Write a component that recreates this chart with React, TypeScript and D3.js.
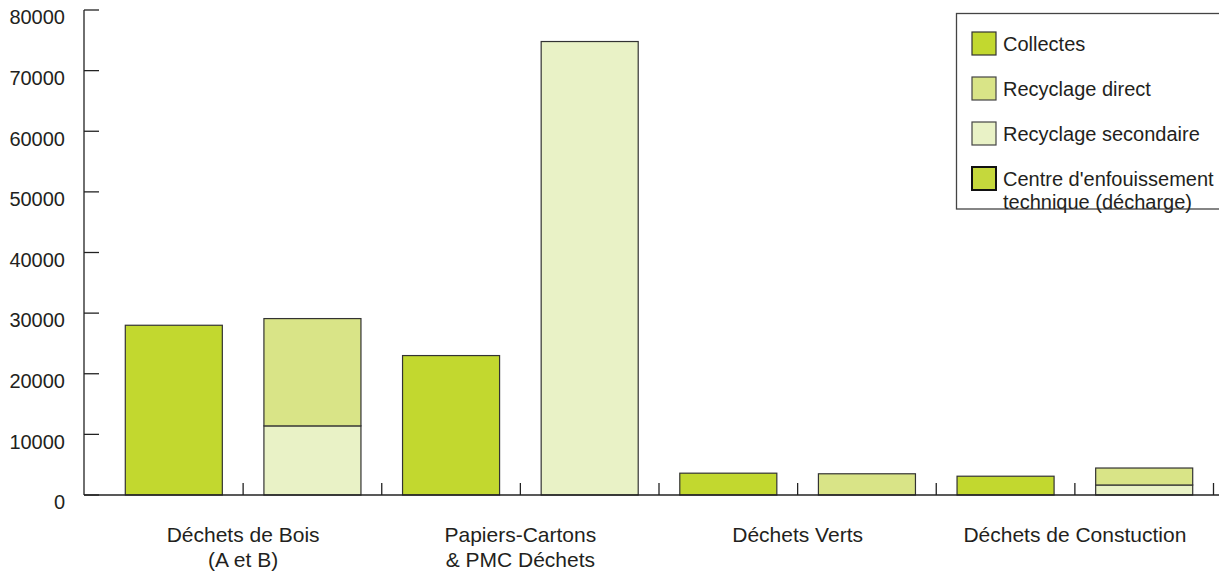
import * as d3 from "d3";
import { useEffect } from "react";

const categories = [
  ["Déchets de Bois", "(A et B)"],
  ["Papiers-Cartons", "& PMC Déchets"],
  ["Déchets Verts"],
  ["Déchets de Constuction"],
];
const collectes = [28000, 23000, 3600, 3100];
const recyclageSecondaire = [11400, 74800, 0, 1650];
const recyclageDirect = [17700, 0, 3500, 2800];
const decharge = [0, 0, 0, 0];
const yTicks = [0, 10000, 20000, 30000, 40000, 50000, 60000, 70000, 80000];

const legendItems = [
  { label: ["Collectes"], color: "#c2d82f", stroke: "#333", sw: 1.2 },
  { label: ["Recyclage direct"], color: "#d9e487", stroke: "#444", sw: 1.2 },
  { label: ["Recyclage secondaire"], color: "#e9f2c6", stroke: "#444", sw: 1.2 },
  { label: ["Centre d'enfouissement", "technique (décharge)"], color: "#c5d83c", stroke: "#111", sw: 2 },
];

const W = 1219;
const H = 573;
const font = "'Liberation Sans', Arial, sans-serif";
const textColor = "#231f20";

export default function App() {
  useEffect(() => {
    document.body.style.margin = "0";
  }, []);

  const slots = categories.flatMap((_, i) => [`c${i}`, `t${i}`]);
  const x = d3
    .scaleBand()
    .domain(slots)
    .range([104.5, 1213.5])
    .paddingInner(0.3)
    .paddingOuter(0.15);
  const step = x.step();
  const start = x.range()[0];

  const y = d3.scaleLinear().domain([0, 80000]).range([495, 10]);

  const rows = categories.map((_, i) => ({
    secondaire: recyclageSecondaire[i],
    direct: recyclageDirect[i],
    decharge: decharge[i],
  }));
  const stacked = d3.stack().keys(["secondaire", "direct", "decharge"])(rows as any);
  const stackColors: Record<string, string> = {
    secondaire: "#e9f2c6",
    direct: "#d9e487",
    decharge: "#c5d83c",
  };

  const axisX = 84;

  return (
    <svg width={W} height={H} style={{ display: "block", background: "#fff" }}>
      {/* collectes bars */}
      {collectes.map((v, i) => (
        <rect
          key={`c${i}`}
          x={x(`c${i}`)}
          y={y(v)}
          width={x.bandwidth()}
          height={y(0) - y(v)}
          fill="#c2d82f"
          stroke="#333"
          strokeWidth={1.2}
        />
      ))}
      {/* treatment stacks */}
      {stacked.map((layer) =>
        layer.map((d, i) =>
          d[1] - d[0] > 0 ? (
            <rect
              key={`${layer.key}${i}`}
              x={x(`t${i}`)}
              y={y(d[1])}
              width={x.bandwidth()}
              height={y(d[0]) - y(d[1])}
              fill={stackColors[layer.key]}
              stroke="#333"
              strokeWidth={1.2}
            />
          ) : null
        )
      )}

      {/* y axis */}
      <line x1={axisX} x2={axisX} y1={y(80000)} y2={y(0)} stroke="#222" strokeWidth={1.3} />
      {yTicks.map((t) => (
        <g key={t}>
          <line x1={axisX} x2={axisX + 15} y1={y(t)} y2={y(t)} stroke="#222" strokeWidth={1.3} />
          <text
            x={65}
            y={y(t) + 9}
            textAnchor="end"
            dominantBaseline="middle"
            fontFamily={font}
            fontSize={20}
            fill={textColor}
          >
            {t}
          </text>
        </g>
      ))}

      {/* x axis */}
      <line x1={axisX} x2={W} y1={y(0)} y2={y(0)} stroke="#222" strokeWidth={1.3} />
      {slots.map((_, k) => (
        <line
          key={k}
          x1={start + (k + 1) * step}
          x2={start + (k + 1) * step}
          y1={y(0) - 12}
          y2={y(0)}
          stroke="#222"
          strokeWidth={1.3}
        />
      ))}
      {categories.map((lines, i) => {
        const cx = start + (2 * i + 1) * step;
        return (
          <text key={i} x={cx} textAnchor="middle" fontFamily={font} fontSize={21} fill={textColor}>
            {lines.map((l, j) => (
              <tspan key={j} x={cx} y={542 + j * 25}>
                {l}
              </tspan>
            ))}
          </text>
        );
      })}

      {/* legend */}
      <rect x={956.5} y={13.5} width={W} height={195.5} fill="#fff" stroke="#444" strokeWidth={1.3} />
      {legendItems.map((it, i) => {
        const cy = 43.5 + i * 45;
        return (
          <g key={i}>
            <rect
              x={972}
              y={cy - 11.5}
              width={24}
              height={23}
              fill={it.color}
              stroke={it.stroke}
              strokeWidth={it.sw}
            />
            <text fontFamily={font} fontSize={20} fill={textColor}>
              {it.label.map((l, j) => (
                <tspan key={j} x={1003} y={cy + 7 + j * 23}>
                  {l}
                </tspan>
              ))}
            </text>
          </g>
        );
      })}
    </svg>
  );
}
